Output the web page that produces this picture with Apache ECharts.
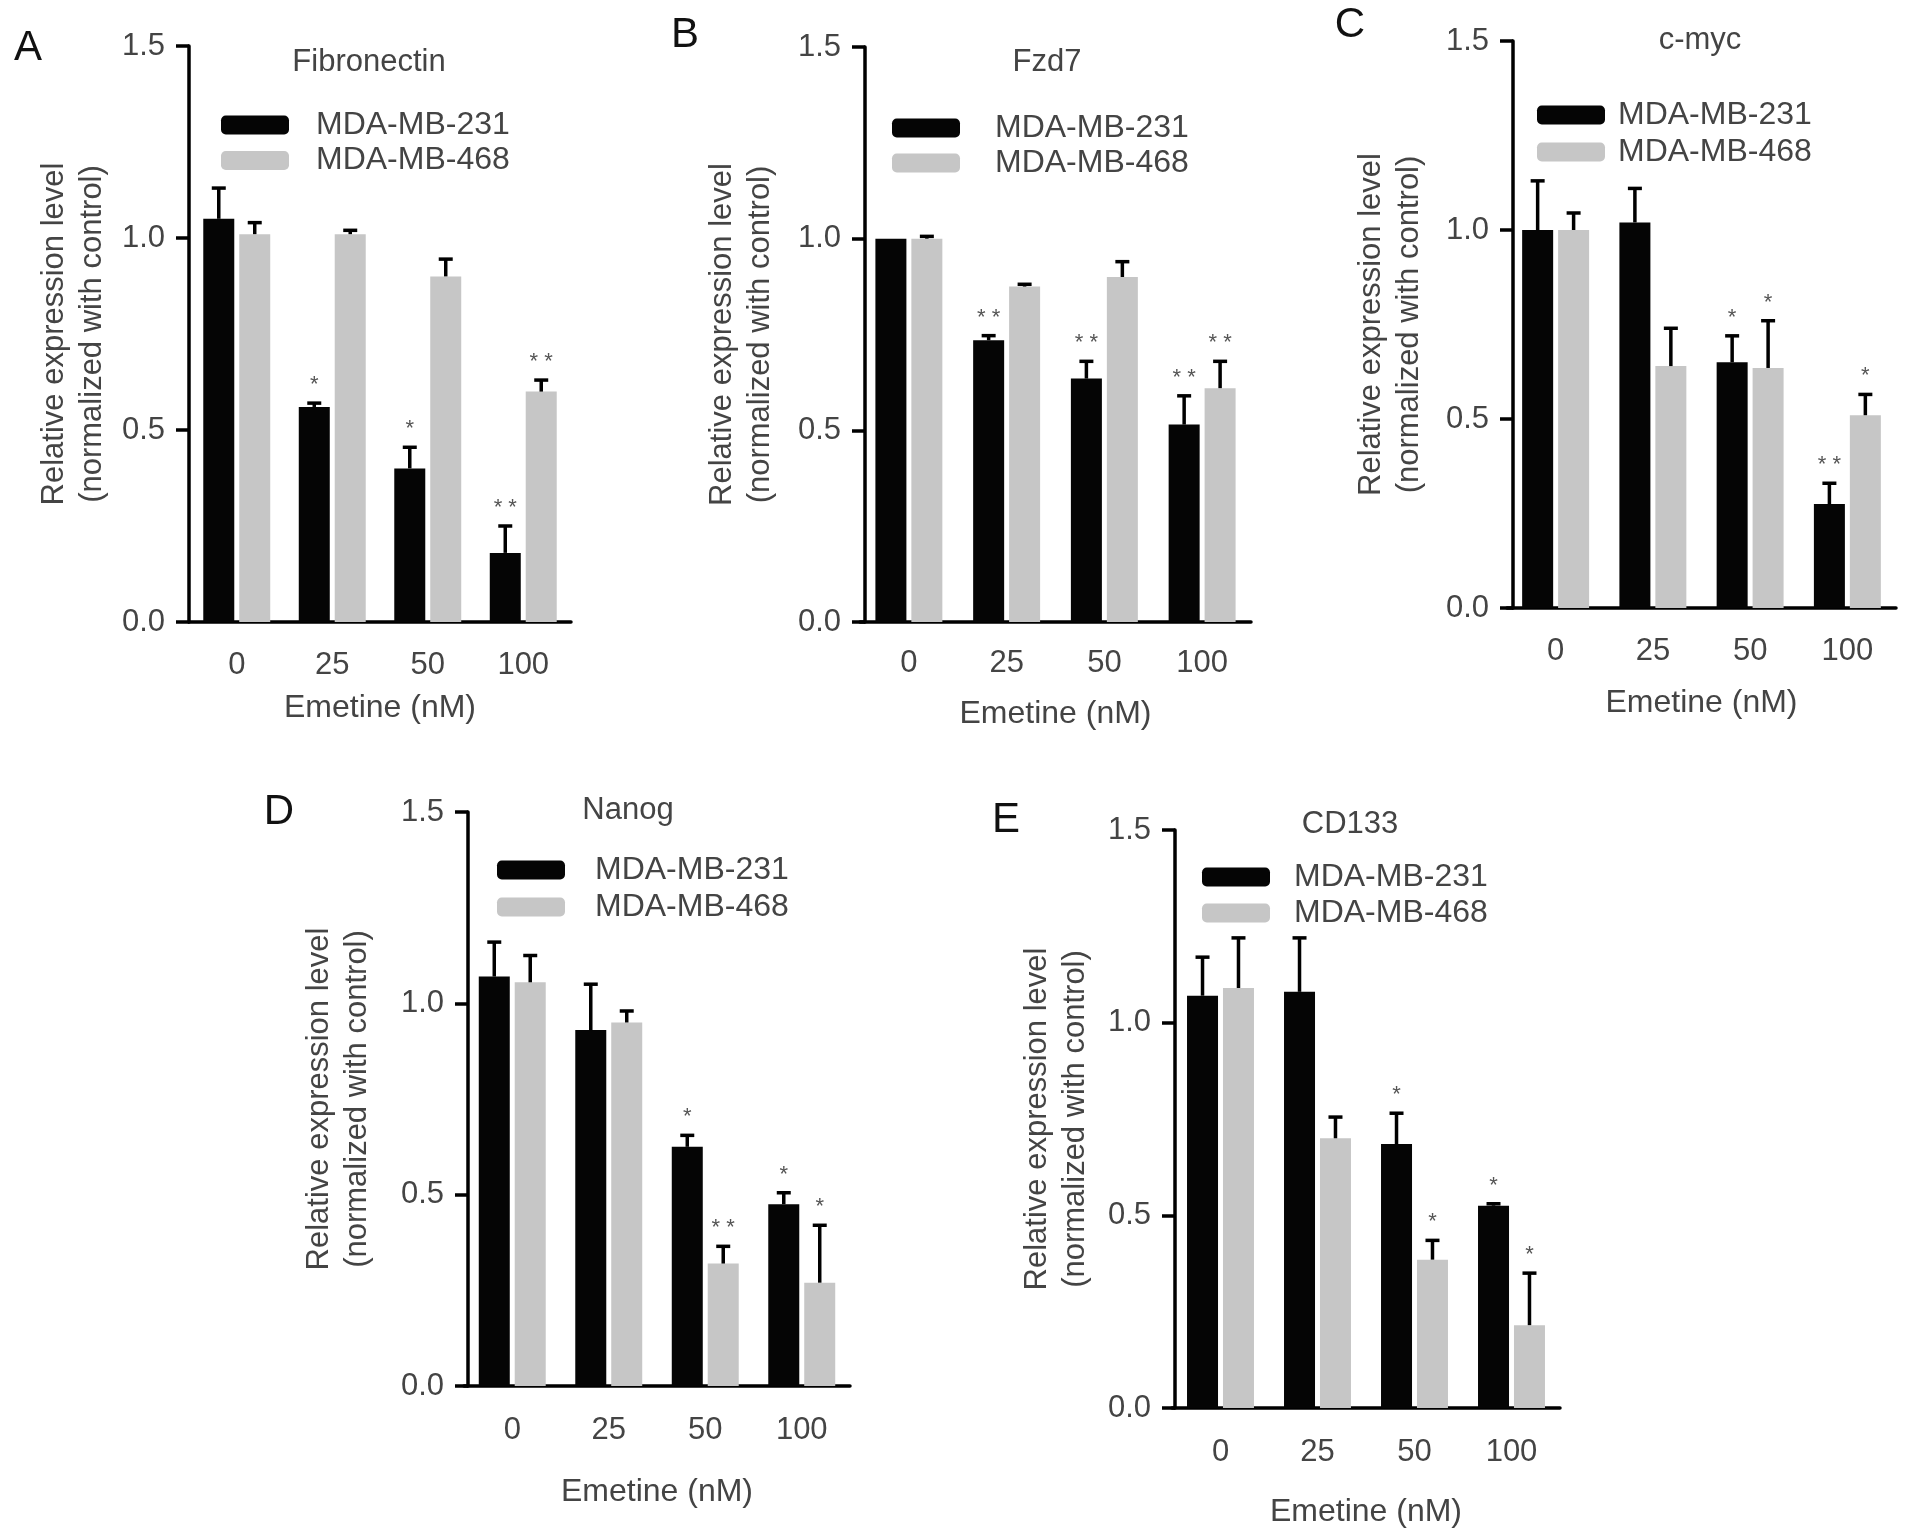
<!DOCTYPE html>
<html>
<head>
<meta charset="utf-8">
<script src="https://cdn.jsdelivr.net/npm/echarts@6/dist/echarts.min.js"></script>
<style>
html,body{margin:0;padding:0;background:#fff;}
#chart{width:1913px;height:1540px;}
</style>
</head>
<body>
<div id="chart"></div>
<script>
// ---------- data ----------
const categories = ['0', '25', '50', '100'];
const seriesNames = ['MDA-MB-231', 'MDA-MB-468'];
const yTicks = [0, 0.5, 1.0, 1.5];

// A: Fibronectin
const fibro231 = [1.05, 0.56, 0.40, 0.18];
const fibro231Err = [0.08, 0.01, 0.055, 0.07];
const fibro468 = [1.01, 1.01, 0.90, 0.60];
const fibro468Err = [0.03, 0.01, 0.045, 0.03];
const fibro231Stars = ['', '*', '*', '**'];
const fibro468Stars = ['', '', '', '**'];

// B: Fzd7
const fzd231 = [1.00, 0.735, 0.635, 0.515];
const fzd231Err = [0.0, 0.012, 0.045, 0.075];
const fzd468 = [1.00, 0.875, 0.90, 0.61];
const fzd468Err = [0.006, 0.006, 0.04, 0.07];
const fzd231Stars = ['', '**', '**', '**'];
const fzd468Stars = ['', '', '', '**'];

// C: c-myc
const myc231 = [1.00, 1.02, 0.65, 0.275];
const myc231Err = [0.13, 0.09, 0.07, 0.055];
const myc468 = [1.00, 0.64, 0.635, 0.51];
const myc468Err = [0.045, 0.10, 0.125, 0.055];
const myc231Stars = ['', '', '*', '**'];
const myc468Stars = ['', '', '*', '*'];

// D: Nanog
const nanog231 = [1.07, 0.93, 0.625, 0.475];
const nanog231Err = [0.09, 0.12, 0.03, 0.03];
const nanog468 = [1.055, 0.95, 0.32, 0.27];
const nanog468Err = [0.07, 0.03, 0.045, 0.15];
const nanog231Stars = ['', '', '*', '*'];
const nanog468Stars = ['', '', '**', '*'];

// E: CD133
const cd231 = [1.07, 1.08, 0.685, 0.525];
const cd231Err = [0.10, 0.14, 0.08, 0.005];
const cd468 = [1.09, 0.70, 0.385, 0.215];
const cd468Err = [0.13, 0.055, 0.05, 0.135];
const cd231Stars = ['', '', '*', '*'];
const cd468Stars = ['', '', '*', '*'];

// ---------- layout ----------
const FONT = '"Liberation Sans", Arial, Helvetica, sans-serif';
const TXT = '#444444';
const BLACK = '#050505';
const GRAY = '#c6c6c6';
const BAR_W = 31;
const GAP_RATIO = 0.16;

const panels = [
  { letter: 'A', title: 'Fibronectin', d231: fibro231, e231: fibro231Err, d468: fibro468, e468: fibro468Err, s231: fibro231Stars, s468: fibro468Stars,
    grid: {left: 189, top: 46, width: 382, height: 576}, yOffset: 0, titlePos: [369, 62], letterPos: [28, 48],
    legend: {left: 216, top: 104, gap: 3.5, pad: 22}, yNameGap: 78, xNameGap: 70, xLabelMargin: 28 },
  { letter: 'B', title: 'Fzd7', d231: fzd231, e231: fzd231Err, d468: fzd468, e468: fzd468Err, s231: fzd231Stars, s468: fzd468Stars,
    grid: {left: 860, top: 47, width: 391, height: 575}, yOffset: -5, titlePos: [1047, 62], letterPos: [685, 35],
    legend: {left: 887, top: 107, gap: 3, pad: 30}, yNameGap: 86, xNameGap: 76, xLabelMargin: 26 },
  { letter: 'C', title: 'c-myc', d231: myc231, e231: myc231Err, d468: myc468, e468: myc468Err, s231: myc231Stars, s468: myc468Stars,
    grid: {left: 1507, top: 41, width: 389, height: 567}, yOffset: -6, titlePos: [1700, 40], letterPos: [1350, 25],
    legend: {left: 1532, top: 94, gap: 5, pad: 8}, yNameGap: 85, xNameGap: 79, xLabelMargin: 28 },
  { letter: 'D', title: 'Nanog', d231: nanog231, e231: nanog231Err, d468: nanog468, e468: nanog468Err, s231: nanog231Stars, s468: nanog468Stars,
    grid: {left: 464, top: 812, width: 386, height: 574}, yOffset: -4, titlePos: [628, 810], letterPos: [279, 812],
    legend: {left: 492, top: 849, gap: 5, pad: 25}, yNameGap: 92, xNameGap: 90, xLabelMargin: 29 },
  { letter: 'E', title: 'CD133', d231: cd231, e231: cd231Err, d468: cd468, e468: cd468Err, s231: cd231Stars, s468: cd468Stars,
    grid: {left: 1172, top: 830, width: 388, height: 578}, yOffset: -3, titlePos: [1350, 824], letterPos: [1006, 820],
    legend: {left: 1197, top: 856, gap: 4, pad: 19}, yNameGap: 81, xNameGap: 88, xLabelMargin: 29 }
];

const grids = [], xAxes = [], yAxes = [], series = [], legends = [], graphics = [];

panels.forEach((p, i) => {
  grids.push(Object.assign({containLabel: false}, p.grid));
  xAxes.push({
    type: 'category', gridIndex: i, data: categories,
    name: 'Emetine (nM)', nameLocation: 'middle', nameGap: p.xNameGap,
    nameTextStyle: {fontFamily: FONT, fontSize: 32, color: TXT},
    axisLine: {lineStyle: {color: '#000', width: 3.5}},
    axisTick: {alignWithLabel: true, length: 12, lineStyle: {color: '#000', width: 3.5}},
    axisLabel: {fontFamily: FONT, fontSize: 31, color: TXT, margin: p.xLabelMargin},
    splitLine: {show: false}
  });
  yAxes.push({
    type: 'value', gridIndex: i, min: 0, max: 1.5, interval: 0.5, offset: p.yOffset,
    name: 'Relative expression level\n(normalized with control)',
    nameLocation: 'middle', nameGap: p.yNameGap, nameRotate: 90,
    nameTextStyle: {fontFamily: FONT, fontSize: 31, color: TXT, lineHeight: 38},
    axisLine: {show: true, lineStyle: {color: '#000', width: 3.5}},
    axisTick: {show: true, length: 13, lineStyle: {color: '#000', width: 3.5}},
    axisLabel: {fontFamily: FONT, fontSize: 31, color: TXT, margin: 24,
      formatter: v => yTicks.indexOf(v) >= 0 ? v.toFixed(1) : ''},
    splitLine: {show: false}
  });
  const groups = [
    {name: seriesNames[0], vals: p.d231, errs: p.e231, stars: p.s231, color: BLACK, sign: -1},
    {name: seriesNames[1], vals: p.d468, errs: p.e468, stars: p.s468, color: GRAY, sign: 1}
  ];
  groups.forEach(g => {
    series.push({
      type: 'bar', name: g.name, xAxisIndex: i, yAxisIndex: i,
      data: g.vals, barWidth: BAR_W, barGap: (GAP_RATIO * 100) + '%',
      itemStyle: {color: g.color}, z: 2, silent: true, animation: false
    });
  });
  groups.forEach(g => {
    const off = g.sign * (BAR_W + BAR_W * GAP_RATIO) / 2;
    series.push({
      type: 'custom', name: g.name + ' err', xAxisIndex: i, yAxisIndex: i,
      data: g.vals.map((v, k) => [k, v, g.errs[k]]),
      z: 5, silent: true, animation: false,
      renderItem: (params, api) => {
        const k = api.value(0), v = api.value(1), e = api.value(2);
        const base = api.coord([k, v]);
        const top = api.coord([k, v + e]);
        const cx = base[0] + off;
        const children = [];
        if (e > 0) {
          children.push({type: 'line', shape: {x1: cx, y1: base[1], x2: cx, y2: top[1]},
            style: {stroke: '#000', lineWidth: 3.5}});
          children.push({type: 'line', shape: {x1: cx - 7, y1: top[1], x2: cx + 7, y2: top[1]},
            style: {stroke: '#000', lineWidth: 3.5}});
        }
        const st = g.stars[k];
        if (st) {
          children.push({type: 'text', x: cx, y: top[1] - 7,
            style: {text: st.split('').join(' '), fontFamily: FONT, fontSize: 22, fill: '#555',
              textAlign: 'center', textVerticalAlign: 'bottom'}});
        }
        return {type: 'group', children: children};
      }
    });
  });
  legends.push({
    orient: 'vertical', left: p.legend.left, top: p.legend.top,
    itemWidth: 68, itemHeight: 19, itemGap: p.legend.gap, icon: 'roundRect',
    selectedMode: false, data: seriesNames,
    textStyle: {fontFamily: FONT, fontSize: 32, color: TXT,
      padding: [0, 0, 0, p.legend.pad]}
  });
  graphics.push({type: 'text', x: p.titlePos[0], y: p.titlePos[1],
    style: {text: p.title, fontFamily: FONT, fontSize: 31, fill: TXT,
      textAlign: 'center', textVerticalAlign: 'middle'}});
  graphics.push({type: 'text', x: p.letterPos[0], y: p.letterPos[1],
    style: {text: p.letter, fontFamily: FONT, fontSize: 42, fill: '#111',
      textAlign: 'center', textVerticalAlign: 'middle'}});
});

const chart = echarts.init(document.getElementById('chart'), null, {renderer: 'canvas'});
chart.setOption({
  backgroundColor: '#fff',
  animation: false,
  grid: grids, xAxis: xAxes, yAxis: yAxes,
  legend: legends, series: series, graphic: graphics
});
</script>
</body>
</html>
